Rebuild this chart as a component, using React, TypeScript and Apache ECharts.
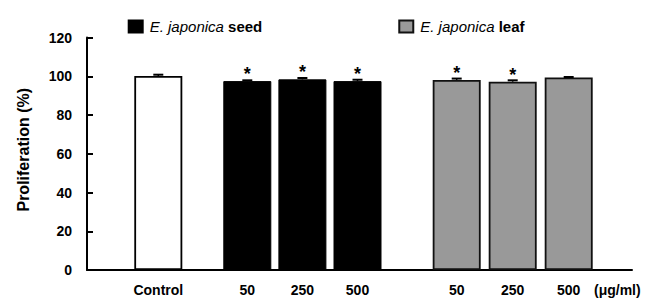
import React, { useEffect, useRef } from "react";
import * as echarts from "echarts";

const controlLabels = ["Control"];
const doseLabels = ["50", "250", "500"];
const controlValues = [100.1];
const seedValues = [97.5, 98.4, 97.5];
const leafValues = [98.1, 97.2, 99.4];
const controlErrors = [0.7];
const seedErrors = [0.4, 0.7, 0.7];
const leafErrors = [0.7, 0.7, 0.2];
const controlSignificant = [false];
const seedSignificant = [true, true, true];
const leafSignificant = [true, true, false];
const yMin = 0;
const yMax = 120;
const yInterval = 20;
const unitLabel = "(μg/ml)";
const yTitle = "Proliferation (%)";
const seedName = "E. japonica seed";
const leafName = "E. japonica leaf";

const FONT = "'Liberation Sans', Arial, Helvetica, sans-serif";

export default function App() {
  const ref = useRef<HTMLDivElement>(null);
  useEffect(() => {
    if (!ref.current) return;
    const chart = echarts.init(ref.current, null, { renderer: "svg" });
    const top = 37.5;
    const bottom = 30;
    const grids = [
      { left: 87, right: 18, top, bottom },
      { left: 114.3, width: 88, top, bottom },
      { left: 219.75, width: 165.3, top, bottom },
      { left: 428.7, width: 168, top, bottom },
    ];
    const hiddenY = (i: number) => ({
      type: "value",
      gridIndex: i,
      min: yMin,
      max: yMax,
      interval: yInterval,
      show: false,
    });
    const groupX = (i: number, data: string[]) => ({
      type: "category",
      gridIndex: i,
      data,
      axisLine: { show: false },
      axisTick: { show: false },
      axisLabel: {
        margin: 13,
        color: "#000",
        fontSize: 14,
        fontWeight: "bold",
        fontFamily: FONT,
      },
    });
    const errSeries = (i: number, values: number[], errs: number[]) => ({
      type: "custom",
      name: "err" + i,
      xAxisIndex: i,
      yAxisIndex: i,
      z: 5,
      data: values.map((v, k) => [k, v, errs[k]]),
      renderItem: (params: any, api: any) => {
        const idx = api.value(0);
        const v = api.value(1);
        const e = api.value(2);
        const p0 = api.coord([idx, v]);
        const p1 = api.coord([idx, v + e]);
        return {
          type: "group",
          children: [
            {
              type: "line",
              shape: { x1: p0[0], y1: p0[1], x2: p1[0], y2: p1[1] },
              style: { stroke: "#000", lineWidth: 1.5 },
            },
            {
              type: "line",
              shape: { x1: p1[0] - 5, y1: p1[1], x2: p1[0] + 5, y2: p1[1] },
              style: { stroke: "#000", lineWidth: 2 },
            },
          ],
        };
      },
    });
    const starLabel = (sig: boolean[]) => ({
      show: true,
      position: "top",
      distance: -2,
      formatter: (p: any) => (sig[p.dataIndex] ? "*" : ""),
      color: "#000",
      fontSize: 18,
      fontWeight: "bold",
      fontFamily: FONT,
    });
    chart.setOption({
      animation: false,
      backgroundColor: "#fff",
      grid: grids,
      legend: {
        data: [seedName, leafName],
        left: 122.7,
        top: 14,
        itemWidth: 14,
        itemHeight: 12,
        itemGap: 136,
        icon: "rect",
        selectedMode: false,
        formatter: (name: string) =>
          `{i|E. japonica} {b|${name.split(" ").pop()}}`,
        textStyle: {
          color: "#000",
          fontFamily: FONT,
          fontSize: 15,
          padding: [0, 0, 0, 2],
          rich: {
            i: { fontStyle: "italic", fontSize: 15, fontFamily: FONT, color: "#000" },
            b: { fontWeight: "bold", fontSize: 15, fontFamily: FONT, color: "#000" },
          },
        },
      },
      graphic: [
        {
          type: "text",
          left: 594,
          top: 283,
          style: {
            text: unitLabel,
            fill: "#000",
            fontSize: 14,
            fontWeight: "bold",
            fontFamily: FONT,
          },
        },
      ],
      xAxis: [
        {
          type: "value",
          gridIndex: 0,
          min: 0,
          max: 1,
          axisLine: { show: true, lineStyle: { color: "#000", width: 2 } },
          axisTick: { show: false },
          axisLabel: { show: false },
          splitLine: { show: false },
        },
        groupX(1, controlLabels),
        groupX(2, doseLabels),
        groupX(3, doseLabels),
      ],
      yAxis: [
        {
          type: "value",
          gridIndex: 0,
          min: yMin,
          max: yMax,
          interval: yInterval,
          axisLine: { show: true, lineStyle: { color: "#000", width: 2 } },
          axisTick: { show: true, inside: true, length: 6, lineStyle: { color: "#000", width: 2 } },
          axisLabel: {
            margin: 15,
            color: "#000",
            fontSize: 14,
            fontWeight: "bold",
            fontFamily: FONT,
          },
          splitLine: { show: false },
          name: yTitle,
          nameLocation: "middle",
          nameGap: 56,
          nameTextStyle: {
            color: "#000",
            fontSize: 16,
            fontWeight: "bold",
            fontFamily: FONT,
            padding: [0, 0, 0, 8],
          },
        },
        hiddenY(1),
        hiddenY(2),
        hiddenY(3),
      ],
      series: [
        {
          type: "bar",
          name: "Control",
          xAxisIndex: 1,
          yAxisIndex: 1,
          barWidth: 48,
          data: controlValues,
          itemStyle: { color: "#fff", borderColor: "#000", borderWidth: 1.8 },
          label: starLabel(controlSignificant),
        },
        {
          type: "bar",
          name: seedName,
          xAxisIndex: 2,
          yAxisIndex: 2,
          barWidth: 48,
          data: seedValues,
          itemStyle: { color: "#000", borderColor: "#000", borderWidth: 1 },
          label: starLabel(seedSignificant),
        },
        {
          type: "bar",
          name: leafName,
          xAxisIndex: 3,
          yAxisIndex: 3,
          barWidth: 48,
          data: leafValues,
          itemStyle: { color: "#999999", borderColor: "#111", borderWidth: 1.8 },
          label: starLabel(leafSignificant),
        },
        errSeries(1, controlValues, controlErrors),
        errSeries(2, seedValues, seedErrors),
        errSeries(3, leafValues, leafErrors),
      ],
    });
    return () => chart.dispose();
  }, []);
  return (
    <div
      ref={ref}
      style={{ position: "fixed", left: 0, top: 0, width: 650, height: 300, background: "#fff" }}
    />
  );
}
